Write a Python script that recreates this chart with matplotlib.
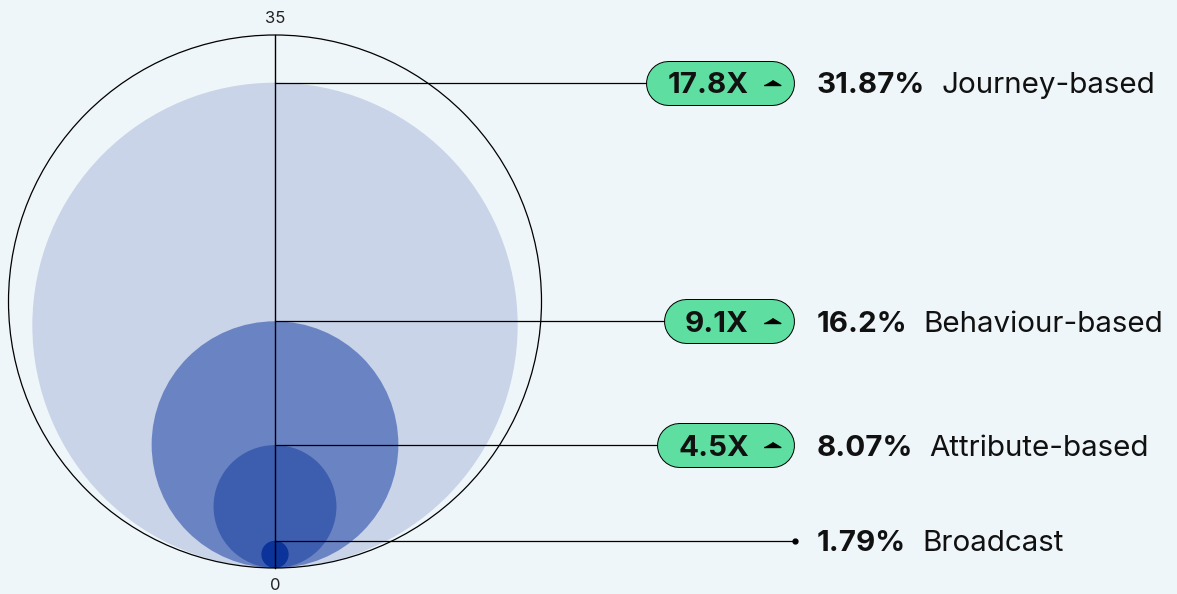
"""Circulos anidados: tasa de conversion por tipo de segmentacion."""

import matplotlib.pyplot as plt
from matplotlib.patches import Circle

plt.rcParams["font.family"] = ["Inter", "DejaVu Sans"]

# datos
segmentos = ["Journey-based", "Behaviour-based", "Attribute-based", "Broadcast"]
valores = [31.87, 16.2, 8.07, 1.79]
multiplicadores = ["17.8X", "9.1X", "4.5X", None]
escala_max = 35
escala_ticks = ["0", "35"]

# estilos
FONDO = "#EFF6F9"
COLORES = ["#C9D4E8", "#6A83C3", "#3D5DAF", "#0B3399"]
VERDE = "#5EDEA0"
TAM = 21.3

W, H = 1177, 594
BASE_PX, TOP_PX, CX_PX = 568, 35, 275
U = escala_max / (BASE_PX - TOP_PX)  # unidades por pixel

fig = plt.figure(figsize=(W / 100, H / 100), dpi=100, facecolor=FONDO)
ax = fig.add_axes([0, 0, 1, 1])
ax.set_facecolor(FONDO)
ax.set_xlim(-CX_PX * U, (W - CX_PX) * U)
ax.set_ylim(-(H - BASE_PX) * U, BASE_PX * U)
ax.set_aspect("equal")
ax.axis("off")

# circulos anidados, tangentes en la base
for v, c in zip(valores, COLORES):
    ax.add_patch(Circle((0, v / 2), v / 2, facecolor=c, edgecolor="none", zorder=2))
ax.add_patch(Circle((0, escala_max / 2), escala_max / 2, facecolor="none",
                    edgecolor="black", lw=0.9, zorder=3))
ax.plot([0, 0], [0, escala_max], color="black", lw=1.0, zorder=4)
ax.text(0, escala_max + 17 * U, escala_ticks[1], ha="center", va="center",
        fontsize=12, color="#222222")
ax.text(0, -17 * U, escala_ticks[0], ha="center", va="center",
        fontsize=12, color="#222222")

fig.canvas.draw()
renderer = fig.canvas.get_renderer()


def ancho(t):
    bb = t.get_window_extent(renderer)
    return (bb.x1 - bb.x0) * U


X_PCT = (817 - CX_PX) * U
X_BADGE_R = (794 - CX_PX) * U
X_TXT_R = (749 - CX_PX) * U
X_TRI = (772 - CX_PX) * U
ALTO_PX = 43
BAJA = 10.5 * U  # desplazamiento a la linea base
TRIANGULO = [(-1, 0), (1, 0), (0, 0.6)]

for seg, v, m in zip(segmentos, valores, multiplicadores):
    pct = ax.text(X_PCT, v - BAJA, f"{v:g}%", ha="left", va="baseline",
                  fontsize=TAM, fontweight="bold", color="#111111", zorder=6)
    ax.text(X_PCT + ancho(pct) + 16 * U, v - BAJA, seg, ha="left",
            va="baseline", fontsize=TAM, color="#111111", zorder=6)
    if m is None:
        x_fin = (795 - CX_PX) * U
        ax.plot([0, x_fin], [v, v], color="black", lw=0.9, zorder=5)
        ax.plot(x_fin, v, "o", color="black", ms=3.5, zorder=6)
        continue
    t = ax.text(X_TXT_R, v - BAJA, m, ha="right", va="baseline", fontsize=TAM,
                fontweight="bold", color="#111111", zorder=7)
    x_izq = X_TXT_R - ancho(t) - 21 * U
    ax.plot([0, x_izq], [v, v], color="black", lw=0.9, zorder=5)
    # pildora: linea gruesa con extremos redondeados y contorno negro
    r = ALTO_PX / 2 * U
    extremos = [x_izq + r, X_BADGE_R - r]
    ax.plot(extremos, [v, v], color="black", lw=(ALTO_PX + 2) * 0.72,
            solid_capstyle="round", zorder=6)
    ax.plot(extremos, [v, v], color=VERDE, lw=ALTO_PX * 0.72,
            solid_capstyle="round", zorder=6.5)
    ax.plot(X_TRI, v - 2 * U, marker=TRIANGULO, color="black", ms=12,
            linestyle="none", zorder=7)

fig.savefig("out.png", dpi=100, facecolor=FONDO)
